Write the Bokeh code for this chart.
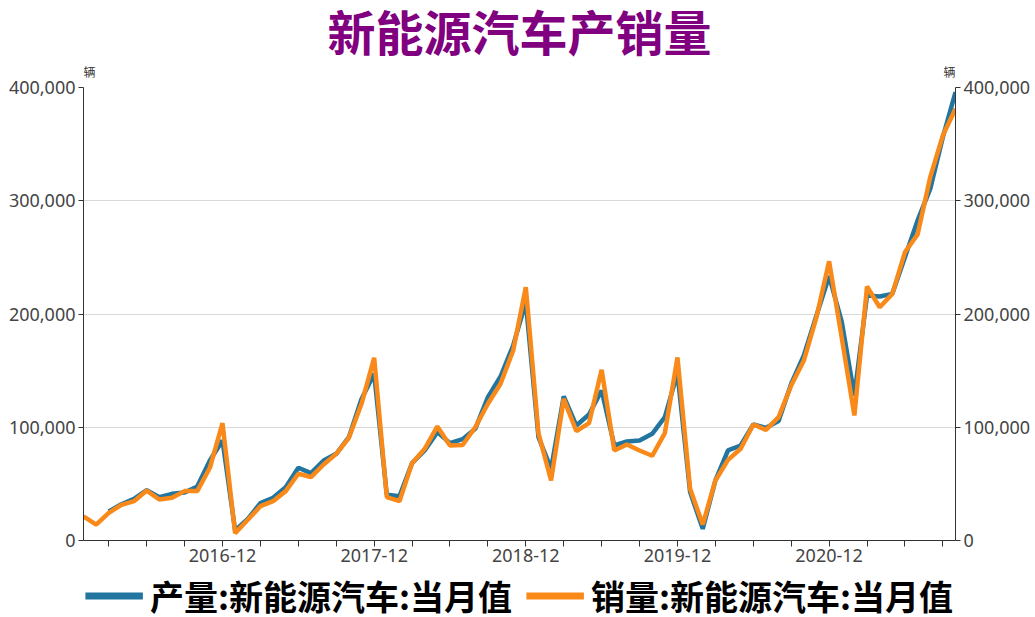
from bokeh.plotting import figure
from bokeh.layouts import column
from bokeh.models import (Range1d, LinearAxis, FixedTicker, NumeralTickFormatter,
                          Legend, LegendItem, Label, ColumnDataSource)
from bokeh.embed import file_html
from bokeh.resources import INLINE

# ---------------- data ----------------
months = [f"{y}-{m:02d}" for y in range(2016, 2022) for m in range(1, 13)][:70]

production = [None, None, 25600, 32000, 36800, 44500, 38200, 41200, 42400, 47700, 70600, 88300,
              8800, 19000, 33000, 37700, 47000, 64200, 59500, 70600, 76500, 91300, 125000, 147200,
              40300, 39100, 68300, 79500, 95700, 86000, 89500, 98600, 126600, 144800, 172200, 210500,
              91300, 63300, 127200, 101500, 111300, 132500, 83900, 87400, 88300, 94200, 108900, 148000,
              42700, 10300, 53000, 79500, 83900, 102400, 99500, 105400, 138400, 163400, 198700, 233500,
              193000, 128000, 216300, 215500, 217800, 250200, 282600, 310500, 356100, 395900]

sales = [21200, 14100, 24400, 31500, 34700, 44100, 36200, 37700, 43600, 43600, 64200, 103600,
         6500, 18300, 30300, 34700, 43600, 58900, 55900, 67100, 76500, 90700, 120700, 161300,
         38300, 34700, 68300, 81000, 100700, 83900, 84300, 100000, 120700, 138400, 167800, 223700,
         94800, 53000, 125100, 96500, 103600, 150700, 79500, 84800, 79500, 74800, 94800, 161600,
         45600, 14100, 53000, 71200, 81000, 102400, 97700, 108900, 136900, 158900, 197200, 246500,
         179000, 110400, 224300, 206000, 217800, 254600, 270200, 320800, 357600, 381200]

series_names = ["产量:新能源汽车:当月值", "销量:新能源汽车:当月值"]
labelled_months = ["2016-12", "2017-12", "2018-12", "2019-12", "2020-12"]
y_ticks = [0, 100000, 200000, 300000, 400000]
title_text = "新能源汽车产销量"
unit_text = "辆"

BLUE = "#21759f"
ORANGE = "#f98a1a"
AXIS_FONT = "Noto Sans"
CJK_FONT = "Noto Sans CJK SC"

# ---------------- layout constants ----------------
W = 1035
H_TOP, H_MAIN, H_LEG = 78, 495, 44
B_LEFT, B_RIGHT, B_TOP, B_BOTTOM = 83, 80, 9, 33
FRAME_W = W - B_LEFT - B_RIGHT      # plot frames of the column are aligned to this width


def bare_figure(height):
    f = figure(width=W, height=height, output_backend="svg", toolbar_location=None,
               x_range=Range1d(0, 1), y_range=Range1d(-2, -1),
               x_axis_location=None, y_axis_location=None, title=None, min_border=0)
    f.outline_line_color = None
    f.grid.visible = False
    f.background_fill_color = "white"
    f.border_fill_color = "white"
    return f


# ---------------- header: title + units ----------------
top = bare_figure(H_TOP)
top.add_layout(Label(x=FRAME_W / 2, y=H_TOP - 29, x_units="screen", y_units="screen",
                     text=title_text, text_align="center", text_baseline="middle",
                     text_font=CJK_FONT, text_font_style="bold",
                     text_font_size="48px", text_color="#800080"))
for ux, al in ((0, "left"), (FRAME_W, "right")):
    top.add_layout(Label(x=ux, y=7, x_units="screen", y_units="screen",
                         text=unit_text, text_align=al, text_baseline="middle",
                         text_font=CJK_FONT, text_font_size="12px", text_color="#333333"))

# ---------------- main chart ----------------
x = list(range(len(months)))
src = ColumnDataSource(data=dict(
    x=x,
    prod=[float("nan") if v is None else v for v in production],
    sales=sales,
))

p = figure(width=W, height=H_MAIN, output_backend="svg", toolbar_location=None, title=None,
           x_range=Range1d(0, len(months) - 1), y_range=Range1d(0, 400000),
           min_border_left=B_LEFT, min_border_right=B_RIGHT,
           min_border_top=B_TOP, min_border_bottom=B_BOTTOM)
p.outline_line_color = None
p.background_fill_color = "white"
p.border_fill_color = "white"

p.line("x", "prod", source=src, color=BLUE, line_width=4.5)
p.line("x", "sales", source=src, color=ORANGE, line_width=4.5)


def style_y(ax):
    ax.ticker = FixedTicker(ticks=y_ticks)
    ax.formatter = NumeralTickFormatter(format="0,0")
    ax.major_label_text_font = AXIS_FONT
    ax.major_label_text_font_size = "18px"
    ax.major_label_text_color = "#444444"
    ax.axis_line_color = "#333333"
    ax.major_tick_line_color = "#333333"
    ax.major_tick_out = 5
    ax.major_tick_in = 0
    ax.minor_tick_line_color = None
    ax.major_label_standoff = 3


style_y(p.yaxis[0])
right_ax = LinearAxis()
style_y(right_ax)
p.add_layout(right_ax, "right")

xa = p.xaxis[0]
tick_pos = list(range(2, len(months), 3))
xa.ticker = FixedTicker(ticks=tick_pos)
xa.major_label_overrides = {i: (months[i] if months[i] in labelled_months else "") for i in tick_pos}
xa.major_label_text_font = AXIS_FONT
xa.major_label_text_font_size = "18px"
xa.major_label_text_color = "#444444"
xa.axis_line_color = "#333333"
xa.major_tick_line_color = "#333333"
xa.major_tick_out = 6
xa.major_tick_in = 0
xa.minor_tick_line_color = None
xa.major_label_standoff = 2

p.xgrid.grid_line_color = None
p.ygrid.ticker = FixedTicker(ticks=y_ticks)
p.ygrid.grid_line_color = "#d9d9d9"
p.ygrid.grid_line_width = 1

# ---------------- legend strip ----------------
# The legend strip shows no data area (its ranges lie outside the series values);
# its renderers only provide the legend swatches.
leg = bare_figure(H_LEG)
leg_b = leg.line("x", "prod", source=src, color=BLUE, line_width=7)
leg_o = leg.line("x", "sales", source=src, color=ORANGE, line_width=7)
legend = Legend(items=[LegendItem(label=series_names[0], renderers=[leg_b]),
                       LegendItem(label=series_names[1], renderers=[leg_o])],
                orientation="horizontal", location="center")
legend.border_line_color = None
legend.background_fill_alpha = 0
legend.padding = 0
legend.margin = 0
legend.spacing = 14
legend.glyph_width = 58
legend.glyph_height = 30
legend.label_standoff = 7
legend.label_text_font = CJK_FONT
legend.label_text_font_size = "34px"
legend.label_text_font_style = "bold"
legend.label_text_color = "#000000"
leg.add_layout(legend, "center")

page = column(top, p, leg, spacing=0)
open("out.html", "w").write(file_html(page, INLINE))
